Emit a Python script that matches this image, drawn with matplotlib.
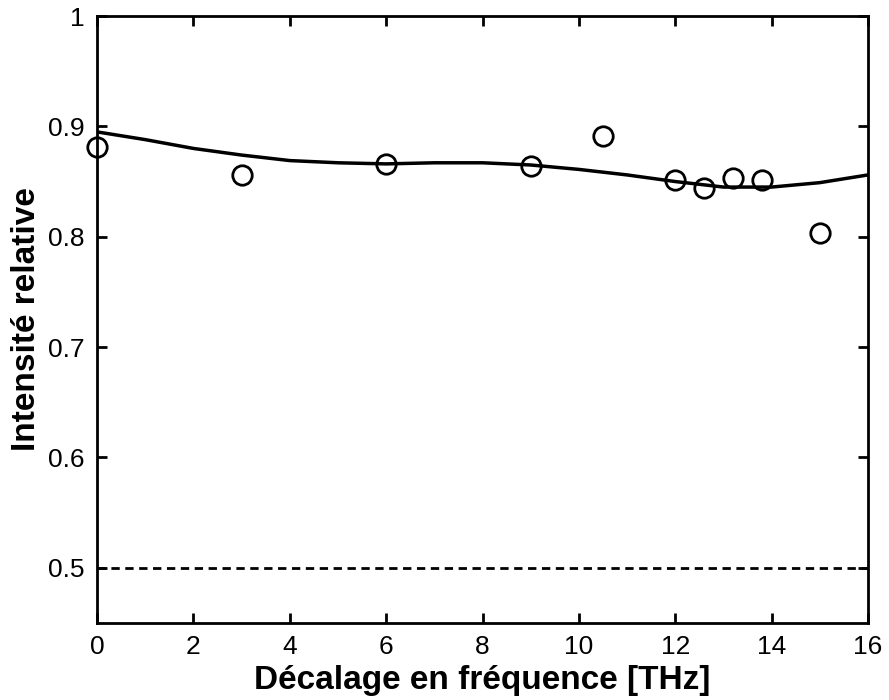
import matplotlib
matplotlib.use("Agg")
import matplotlib.pyplot as plt

# measured points
x_meas = [0, 3, 6, 9, 10.5, 12, 12.6, 13.2, 13.8, 15]
y_meas = [0.881, 0.856, 0.866, 0.864, 0.891, 0.851, 0.844, 0.853, 0.851, 0.803]

# fitted curve
x_fit = [0, 1, 2, 3, 4, 5, 6, 7, 8, 9, 10, 11, 12, 13, 14, 15, 16]
y_fit = [0.895, 0.888, 0.880, 0.874, 0.869, 0.867, 0.866, 0.867, 0.867,
         0.865, 0.861, 0.856, 0.850, 0.845, 0.845, 0.849, 0.856]

ref_level = 0.5

xticks = [0, 2, 4, 6, 8, 10, 12, 14, 16]
yticks = [0.5, 0.6, 0.7, 0.8, 0.9, 1.0]
ytick_labels = ["0.5", "0.6", "0.7", "0.8", "0.9", "1"]

plt.rcParams['font.family'] = ['Liberation Sans', 'DejaVu Sans']

fig = plt.figure(figsize=(8.89, 7.0), dpi=100)
ax = fig.add_axes([97/889, 1 - 623/700, (868-97)/889, (623-16)/700])

ax.plot(x_fit, y_fit, color='black', lw=2.5)
ax.plot(x_meas, y_meas, linestyle='none', marker='o', markersize=14,
        markerfacecolor='none', markeredgecolor='black', markeredgewidth=2.0, clip_on=False)
ax.axhline(ref_level, color='black', lw=2.0, linestyle=(0, (3, 2)))

ax.set_xlim(0, 16)
ax.set_ylim(0.45, 1.0)
ax.set_xticks(xticks)
ax.set_xticklabels([str(t) for t in xticks])
ax.set_yticks(yticks)
ax.set_yticklabels(ytick_labels)

ax.tick_params(direction='in', top=True, right=True, length=7, width=2,
               labelsize=19, pad=9)
for s in ax.spines.values():
    s.set_linewidth(2)

ax.set_xlabel("Décalage en fréquence [THz]", fontsize=24, fontweight='bold', labelpad=4)
ax.set_ylabel("Intensité relative", fontsize=24, fontweight='bold', labelpad=4)

fig.savefig("out.png", dpi=100)
